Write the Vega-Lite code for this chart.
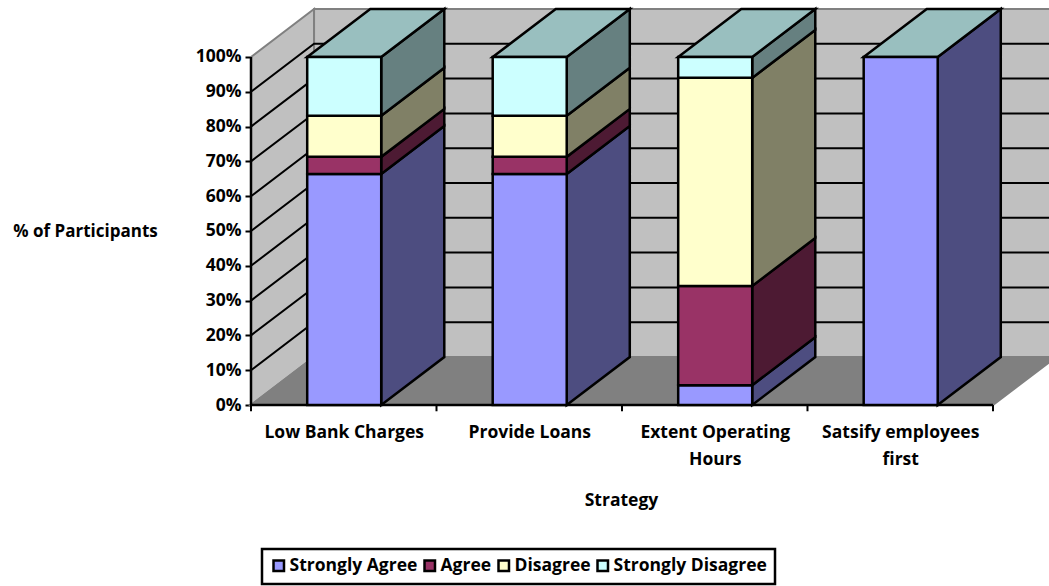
{
"$schema":"https://vega.github.io/schema/vega-lite/v6.json",
"autosize":"none",
"padding":{"left":251,"top":9,"right":0,"bottom":181},
"width":798,"height":396,
"background":"white",
"config":{"view":{"stroke":null},"font":"Open Sans","legend":{"strokeWidth":2.5}},
"datasets":{
"bars":[
{"strategy":"Low Bank Charges","series":"Strongly Agree","value":66.4},
{"strategy":"Low Bank Charges","series":"Agree","value":4.9},
{"strategy":"Low Bank Charges","series":"Disagree","value":11.8},
{"strategy":"Low Bank Charges","series":"Strongly Disagree","value":16.9},
{"strategy":"Provide Loans","series":"Strongly Agree","value":66.4},
{"strategy":"Provide Loans","series":"Agree","value":4.9},
{"strategy":"Provide Loans","series":"Disagree","value":11.8},
{"strategy":"Provide Loans","series":"Strongly Disagree","value":16.9},
{"strategy":"Extent Operating Hours","series":"Strongly Agree","value":5.7},
{"strategy":"Extent Operating Hours","series":"Agree","value":28.5},
{"strategy":"Extent Operating Hours","series":"Disagree","value":59.8},
{"strategy":"Extent Operating Hours","series":"Strongly Disagree","value":6},
{"strategy":"Satsify employees first","series":"Strongly Agree","value":100}
],
"levels":[{"level":10},{"level":20},{"level":30},{"level":40},{"level":50},{"level":60},{"level":70},{"level":80},{"level":90}],
"walls":[{"face":"Left wall"},{"face":"Floor"},{"face":"Back wall"}],
"cats":[{"c":0},{"c":1},{"c":2},{"c":3},{"c":4}]
},
"layer":[
{"data":{"name":"walls"},
 "transform":[
  {"calculate":"datum.face==='Floor'?[0,0.34,4,4.34]:datum.face==='Left wall'?[0,0.34]:[0.34,4.34]","as":"px"},
  {"calculate":"datum.face==='Floor'?[0,13.79,13.79,13.79]:datum.face==='Left wall'?[100,113.79]:[113.79,113.79]","as":"pt"},
  {"calculate":"datum.face==='Floor'?[0,0,0,13.79]:datum.face==='Left wall'?[0,13.79]:[13.79,13.79]","as":"pb"},
  {"flatten":["px","pt","pb"]}],
 "mark":{"type":"area","stroke":"#808080","strokeWidth":2,"clip":false,"interpolate":"linear"},
 "encoding":{
  "x":{"field":"px","type":"quantitative","scale":{"domain":[0,4.302],"nice":false,"zero":false},
   "axis":{"values":[0.5,1.5,2.5,3.5],"grid":false,"domain":false,"ticks":false,"labelPadding":18,"labelFont":"Open Sans","labelFontWeight":"bold","labelFontSize":17.5,"labelColor":"black","labelAngle":0,"labelAlign":"center","labelLineHeight":27,"labelBaseline":"top","labelLimit":300,"labelOverlap":false,"labelFlush":false,
    "labelExpr":"['Low Bank Charges','Provide Loans',['Extent Operating','Hours'],['Satsify employees','first']][floor(datum.value)]",
    "title":"Strategy","titleFont":"Open Sans","titleFontWeight":"bold","titleFontSize":17.5,"titleColor":"black","titleX":370,"titleY":95,"titleAlign":"center","titleBaseline":"middle"}},
  "y":{"field":"pt","type":"quantitative","scale":{"domain":[0,113.79],"nice":false,"zero":false},
   "axis":{"values":[0,10,20,30,40,50,60,70,80,90,100],"tickCount":11,"grid":false,"domain":false,"tickColor":"black","tickWidth":2,"tickSize":6,"labelPadding":4,"labelFont":"Open Sans","labelFontWeight":"bold","labelFontSize":17.5,"labelColor":"black","labelExpr":"datum.value+'%'","labelOverlap":false,"labelFlush":false,
    "title":"% of Participants","titleFont":"Open Sans","titleFontWeight":"bold","titleFontSize":17,"titleColor":"black","titleAngle":0,"titleX":-166,"titleY":222,"titleAlign":"center","titleBaseline":"middle"}},
  "y2":{"field":"pb"},
  "color":{"field":"face","type":"nominal","legend":{"orient":"none","legendX":11,"legendY":540,"direction":"horizontal","columns":4,"title":null,"values":["Strongly Agree","Agree","Disagree","Strongly Disagree"],"strokeColor":"black","padding":8,"fillColor":"white","symbolType":"square","symbolSize":110,"symbolStrokeColor":"black","symbolStrokeWidth":2.5,"symbolOpacity":1,"labelFont":"Open Sans","labelFontWeight":"bold","labelFontSize":17.5,"labelColor":"black","labelOffset":2,"columnPadding":1,"labelLimit":300},"scale":{
    "domain":["Strongly Agree","Agree","Disagree","Strongly Disagree","Strongly Agree side","Agree side","Disagree side","Strongly Disagree side","Top","Left wall","Back wall","Floor"],
    "range":["#9999FF","#993366","#FFFFCC","#CCFFFF","#4D4D80","#4D1A33","#808066","#668080","#99BFBF","#C0C0C0","#C0C0C0","#808080"]}},
  "detail":{"field":"face"}
 }},
{"data":{"name":"levels"},
 "transform":[
  {"calculate":"[0,0.34,4.34]","as":"px"},
  {"calculate":"[datum.level,datum.level+13.79,datum.level+13.79]","as":"pt"},
  {"flatten":["px","pt"]}],
 "mark":{"type":"line","color":"black","strokeWidth":2,"interpolate":"linear"},
 "encoding":{"x":{"field":"px","type":"quantitative"},"y":{"field":"pt","type":"quantitative"},"detail":{"field":"level"},"order":{"field":"px"}}},
{"data":{"name":"cats"},
 "transform":[{"calculate":"0","as":"pt"},{"calculate":"-1.8","as":"pb"},{"calculate":"datum.c","as":"px"}],
 "mark":{"type":"rule","color":"black","strokeWidth":2},
 "encoding":{"x":{"field":"px","type":"quantitative"},"y":{"field":"pt","type":"quantitative"},"y2":{"field":"pb"}}},
{"data":{"name":"cats"},
 "transform":[{"filter":"datum.c===0"},{"calculate":"0","as":"pt"},{"calculate":"0","as":"px"},{"calculate":"4","as":"pe"}],
 "mark":{"type":"rule","color":"black","strokeWidth":2.5},
 "encoding":{"x":{"field":"px","type":"quantitative"},"x2":{"field":"pe"},"y":{"field":"pt","type":"quantitative"}}},
{"data":{"name":"cats"},
 "transform":[{"filter":"datum.c===0"},{"calculate":"0","as":"pt"},{"calculate":"0","as":"px"},{"calculate":"100","as":"pe"}],
 "mark":{"type":"rule","color":"black","strokeWidth":2.5},
 "encoding":{"x":{"field":"px","type":"quantitative"},"y":{"field":"pt","type":"quantitative"},"y2":{"field":"pe"}}},
{"data":{"name":"bars"},
 "transform":[
  {"calculate":"indexof(['Strongly Agree','Agree','Disagree','Strongly Disagree'],datum.series)","as":"ord"},
  {"stack":"value","groupby":["strategy"],"sort":[{"field":"ord"}],"as":["y0","y1"]},
  {"calculate":"indexof(['Low Bank Charges','Provide Loans','Extent Operating Hours','Satsify employees first'],datum.strategy)+0.303","as":"x0"},
  {"calculate":"datum.x0+0.399","as":"x1"},
  {"calculate":"datum.series+' side'","as":"face"},
  {"calculate":"datum.strategy+datum.series","as":"key"},
  {"calculate":"[datum.x1,datum.x1+0.34]","as":"px"},
  {"calculate":"[datum.y1,datum.y1+13.79]","as":"pt"},
  {"calculate":"[datum.y0,datum.y0+13.79]","as":"pb"},
  {"flatten":["px","pt","pb"]}],
 "mark":{"type":"area","stroke":"black","strokeWidth":2.5,"interpolate":"linear"},
 "encoding":{"x":{"field":"px","type":"quantitative"},"y":{"field":"pt","type":"quantitative"},"y2":{"field":"pb"},
  "color":{"field":"face","type":"nominal"},"detail":{"field":"key"}}},
{"data":{"name":"bars"},
 "transform":[
  {"joinaggregate":[{"op":"sum","field":"value","as":"total"}],"groupby":["strategy"]},
  {"filter":"datum.series==='Strongly Disagree'||datum.strategy==='Satsify employees first'"},
  {"calculate":"indexof(['Low Bank Charges','Provide Loans','Extent Operating Hours','Satsify employees first'],datum.strategy)+0.303","as":"x0"},
  {"calculate":"'Top'","as":"face"},
  {"calculate":"[datum.x0,datum.x0+0.34,datum.x0+0.399,datum.x0+0.739]","as":"px"},
  {"calculate":"[datum.total,datum.total+13.79,datum.total+13.79,datum.total+13.79]","as":"pt"},
  {"calculate":"[datum.total,datum.total,datum.total,datum.total+13.79]","as":"pb"},
  {"flatten":["px","pt","pb"]}],
 "mark":{"type":"area","stroke":"black","strokeWidth":2.5,"interpolate":"linear"},
 "encoding":{"x":{"field":"px","type":"quantitative"},"y":{"field":"pt","type":"quantitative"},"y2":{"field":"pb"},
  "color":{"field":"face","type":"nominal"},"detail":{"field":"strategy"}}},
{"data":{"name":"bars"},
 "transform":[
  {"calculate":"indexof(['Strongly Agree','Agree','Disagree','Strongly Disagree'],datum.series)","as":"ord"},
  {"stack":"value","groupby":["strategy"],"sort":[{"field":"ord"}],"as":["pb","pt"]},
  {"calculate":"indexof(['Low Bank Charges','Provide Loans','Extent Operating Hours','Satsify employees first'],datum.strategy)+0.303","as":"px"},
  {"calculate":"datum.px+0.399","as":"x1"},
  {"calculate":"datum.series","as":"face"}],
 "mark":{"type":"rect","stroke":"black","strokeWidth":2.5},
 "encoding":{"x":{"field":"px","type":"quantitative"},"x2":{"field":"x1"},"y":{"field":"pb","type":"quantitative"},"y2":{"field":"pt"},
  "color":{"field":"face","type":"nominal"}}}
]
}
